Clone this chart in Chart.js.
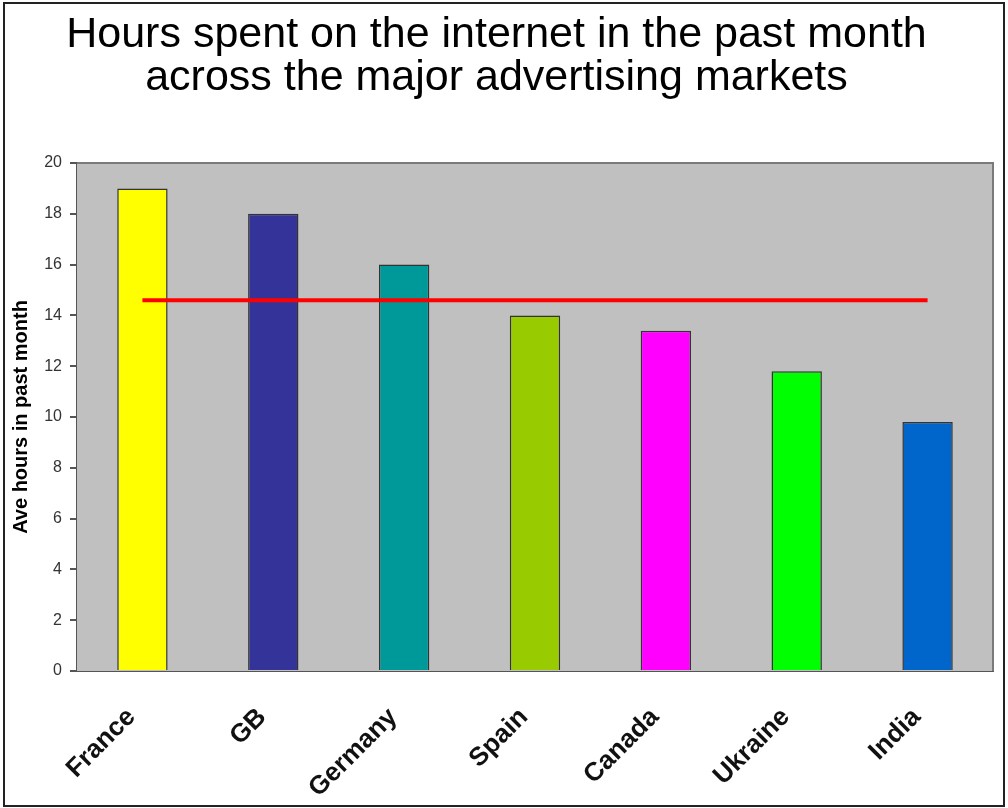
<!DOCTYPE html>
<html>
<head>
<meta charset="utf-8">
<title>Hours spent on the internet</title>
<script src="https://cdn.jsdelivr.net/npm/chart.js@4.4.1/dist/chart.umd.min.js"></script>
<style>
  html, body { margin: 0; padding: 0; background: #fff; }
  #wrap { width: 1008px; height: 808px; }
</style>
</head>
<body>
<div id="wrap"><canvas id="chartHoras" width="1008" height="808"></canvas></div>
<script>
// datos del grafico
const mercados = ['France', 'GB', 'Germany', 'Spain', 'Canada', 'Ukraine', 'India'];
const horas = [19, 18, 16, 14, 13.4, 11.8, 9.8];
const promedio = [14.6, 14.6, 14.6, 14.6, 14.6, 14.6, 14.6];
const coloresBarras = ['#ffff00', '#333399', '#009999', '#99cc00', '#ff00ff', '#00ff00', '#0066cc'];
const ticksY = [0, 2, 4, 6, 8, 10, 12, 14, 16, 18, 20];

const fuente = 'Arial, "Liberation Sans", sans-serif';

// fondo gris del area de trazado y marco exterior
const fondoPlot = {
    id: 'fondoPlot',
    beforeDatasetsDraw(chart) {
        const a = chart.chartArea;
        const ctx = chart.ctx;
        ctx.save();
        ctx.fillStyle = '#c0c0c0';
        ctx.fillRect(a.left, a.top, a.right - a.left, a.bottom - a.top);
        ctx.strokeStyle = '#7a7a7a';
        ctx.lineWidth = 2;
        ctx.beginPath();
        ctx.moveTo(a.left, a.top);
        ctx.lineTo(a.right, a.top);
        ctx.lineTo(a.right, a.bottom);
        ctx.stroke();
        ctx.restore();
    },
    afterDraw(chart) {
        const ctx = chart.ctx;
        ctx.save();
        ctx.strokeStyle = '#222';
        ctx.lineWidth = 2;
        ctx.strokeRect(4, 3, 1000, 803);
        ctx.restore();
    }
};

new Chart(document.getElementById('chartHoras'), {
    data: {
        labels: mercados,
        datasets: [
            {
                type: 'line',
                label: 'Promedio',
                data: promedio,
                borderColor: '#ff0000',
                borderWidth: 4,
                pointRadius: 0,
                fill: false,
                order: 0
            },
            {
                type: 'bar',
                label: 'Horas',
                data: horas,
                backgroundColor: coloresBarras,
                borderColor: '#333333',
                borderWidth: 1.5,
                categoryPercentage: 1,
                barPercentage: 0.385,
                order: 1
            }
        ]
    },
    options: {
        responsive: false,
        devicePixelRatio: 1,
        animation: false,
        layout: { padding: { top: 0, right: 15, bottom: 0, left: 0 } },
        plugins: {
            legend: { display: false },
            tooltip: { enabled: false },
            title: {
                display: true,
                text: ['Hours spent on the internet in the past month', 'across the major advertising markets'],
                font: { family: fuente, size: 43, weight: 'normal', lineHeight: 1.0 },
                color: '#000',
                padding: { top: 14, bottom: 63 }
            }
        },
        scales: {
            x: {
                grid: { display: false },
                border: { display: true, color: '#555', width: 2 },
                ticks: {
                    color: '#111',
                    font: { family: fuente, size: 26, weight: 'bold' },
                    minRotation: 45,
                    maxRotation: 45,
                    padding: 23,
                    labelOffset: -11
                },
                afterFit: function (s) { s.height = 137; }
            },
            y: {
                min: 0,
                max: 20,
                afterBuildTicks: function (s) { s.ticks = ticksY.map(v => ({ value: v })); },
                grid: { drawOnChartArea: false, drawTicks: true, tickLength: 7, color: '#555', lineWidth: 2 },
                border: { display: true, color: '#555', width: 2 },
                ticks: {
                    color: '#333',
                    font: { family: fuente, size: 16 },
                    padding: 8
                },
                title: {
                    display: true,
                    text: 'Ave hours in past month',
                    color: '#000',
                    font: { family: fuente, size: 20, weight: 'bold' },
                    padding: { top: 9, bottom: 0 }
                },
                afterFit: function (s) { s.width = 77; }
            }
        }
    },
    plugins: [fondoPlot]
});
</script>
</body>
</html>
